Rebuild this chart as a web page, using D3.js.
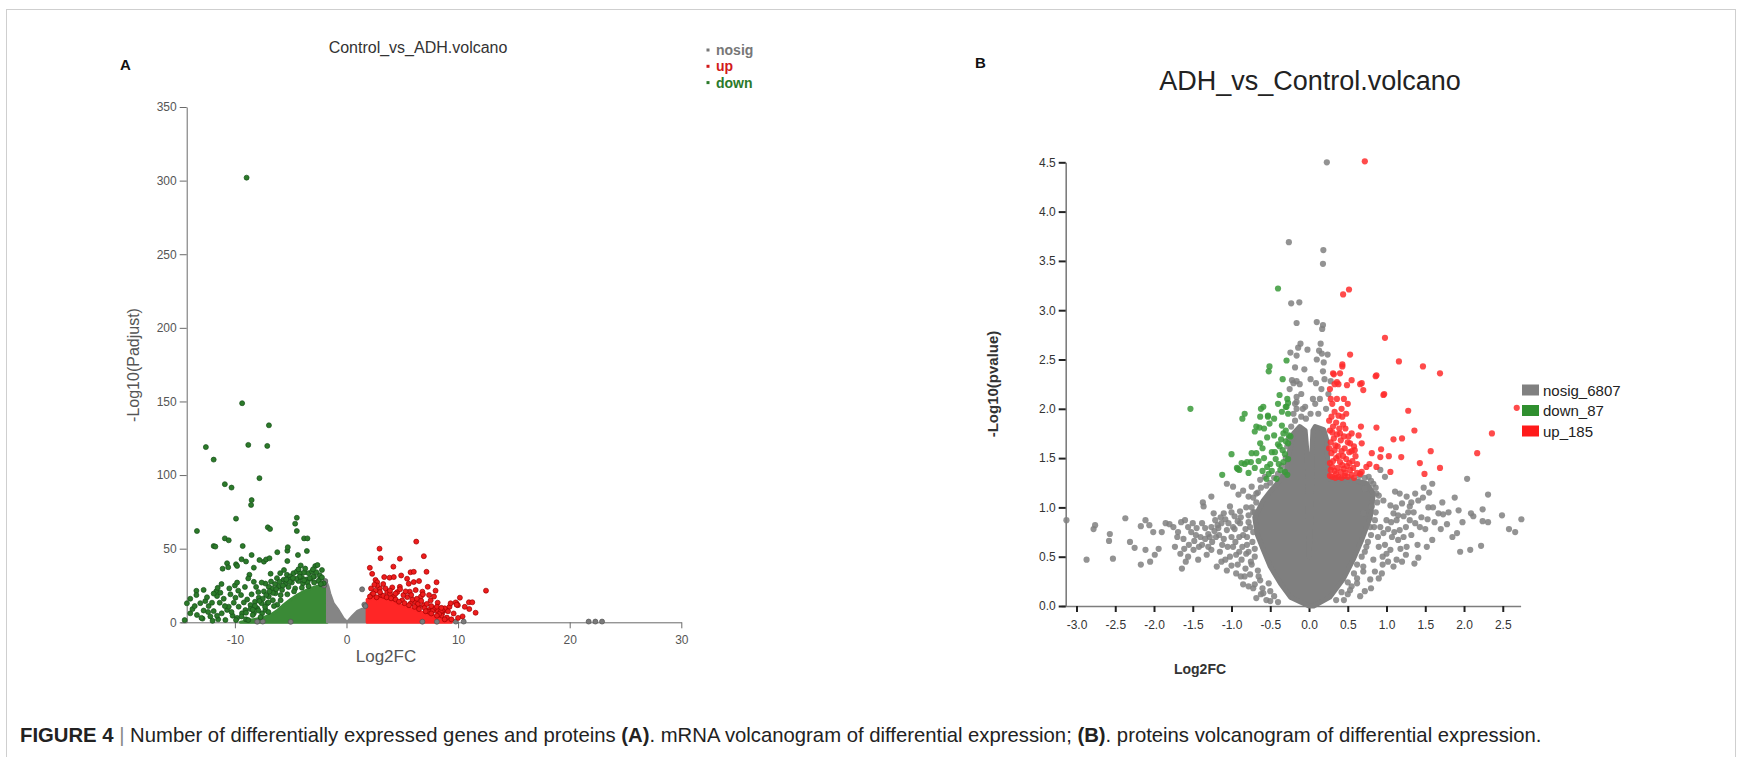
<!DOCTYPE html>
<html>
<head>
<meta charset="utf-8">
<script src="https://d3js.org/d3.v7.min.js"></script>
<style>
  body { margin: 0; background: #fff; }
  svg { font-family: Arial, "Liberation Sans", sans-serif; }
</style>
</head>
<body>
<svg id="fig" width="1742" height="757"></svg>
<script>
// ---------------- panel A : mRNA (Log2FC, -Log10(Padjust)) ----------------
var ticksAx = [-10, 0, 10, 20, 30];
var ticksAy = [0, 50, 100, 150, 200, 250, 300, 350];

var downCoreA = [[-9.5,0],[-8.5,1.5],[-7.5,3],[-6.8,5],[-6.2,8],[-5.6,12],[-5.0,15.5],[-4.4,18.5],[-3.8,21],[-3.2,23],[-2.6,24.5],[-2.2,25],[-1.75,23],[-1.75,0]];
var nosigCoreA = [[-1.75,0],[-1.75,27],[-1.6,24],[-1.45,19.5],[-1.15,13],[-0.7,8.4],[-0.25,2.7],[0.05,0.5],[0.5,4.3],[0.95,7.7],[1.4,9.3],[1.85,10],[1.85,0]];
var upCoreA = [[1.85,0],[1.85,15.5],[2.4,16.5],[3.0,17],[3.6,16],[4.2,14],[4.8,12],[5.4,10.3],[6.0,8.8],[6.6,7.2],[7.2,5.8],[7.8,4.4],[8.4,2.8],[9.0,1],[9.4,0]];

var nosigA = [[1.4,22.4],[-1.9,28],[-2.0,25],[21.7,0.5],[22.3,0.5],[22.9,0.5],[6.8,0.4],[8.1,0.4],[9.8,0.5],[10.5,0.5],[-7.5,0.5],[-8.0,0.4],[-5,0.3],[1.6,12],[1.7,11]];

var downA = [[-8.95,302],[-9.35,148.8],[-6.95,133.8],
  [-12.6,119],[-8.8,120.5],[-7.1,119.8],[-11.9,110.5],[-7.8,97.9],[-10.9,93.8],[-10.3,91.5],[-8.5,83],[-8.55,79.7],[-9.9,70.4],[-13.4,62],[-7.05,64.5],[-6.85,63.4],
  [-4.45,71],[-4.6,67],[-4.45,62],[-3.8,57],[-3.5,57],[-10.9,57],[-10.55,55.7],[-11.9,51.8],[-11.75,51.4],[-9.3,51.8],[-5.3,48.6],[-6.2,47.6],[-3.55,48.4],[-4.35,45.7],[-5.26,51],
  [-10.7,40.1],[-10.6,37.4],[-9.9,39.4],[-9.8,38.3],[-8.5,45.7],[-9.0,41.3],[-8.3,37.1],[-8.7,32.3],[-8.8,29.8],[-11.1,36.4],[-7.4,41.2],[-5.3,41.6],[-4.1,38.6],[-7.2,42.7],[-6.9,43.5],[-7.8,42.3],[-9.4,42.8],
  [-14.3,12.9],[-14.0,6.1],[-13.4,5],[-13.45,21.4],[-13.45,18.5],[-12.65,14.4],[-12.35,11],[-12.05,13.3],[-11.9,7.6],[-11.6,17.8],[-11.66,21.2],[-11.54,23.4],[-11.3,20.1],[-11.36,13.3],[-11.0,16],[-11.18,6.1],[-10.7,8.4],[-10.55,10.6],[-10.4,19],[-10.85,1.6],[-10.1,13.3],[-9.95,16.7],[-9.66,10.6],[-9.36,6.1],[-9.45,18.5],[-9.06,8.3],[-8.6,11.7],[-8.3,6.1],[-7.86,16.7],[-8.0,9.5],[-7.56,6.1],[-7.26,8.4],[-7.1,12.9],[-6.97,17.5],[-6.67,23],[-6.37,19.7],[-6.07,24.2],[-5.77,22],[-6.76,27.7],[-6.23,30],[-5.94,33.4],[-5.64,28.9],[-5.34,32.3],[-5.04,31.2],[-4.75,33.4],[-4.45,34.5],[-4.15,33.4],[-3.79,33.9],[-3.4,33.4],[-3.1,34.5],[-2.8,38.2],[-2.6,38.9],[-2.2,35.5],[-2.35,29.9],[-2.05,26.5],[-6.97,24.1],[-7.26,26.3],
  [-12.8,8],[-12.2,4],[-11.5,2],[-10.2,4.5],[-9.8,3],[-9.0,2],[-12.9,2.5],[-13.8,9],[-12.5,17],[-10.9,11],[-9.2,13.5],[-8.9,15.5],[-8.2,14],[-7.6,13],[-7.9,20.5],[-8.5,19],[-8.1,24],[-7.4,21],[-6.6,15],[-6.2,12],[-6.4,26],[-5.5,26],[-5.9,18.5],[-5.2,24],[-4.9,27],[-4.3,28],[-4.6,23],[-3.9,26.5],[-3.6,29],[-3.2,29.5],[-2.9,31],[-2.5,28],[-2.3,26],[-4.0,30.5],[-5.0,29],[-11.2,26],[-10.0,25],[-9.7,21.5],[-12.0,1],[-14.5,1.5],[-13.1,13],[-8.4,5],[-7.0,7],[-7.7,3.5],
  [-2.4,32],[-2.7,34],[-3.0,31],[-3.3,30],[-3.5,27],[-3.8,28.5],[-4.2,31],[-4.5,29.5],[-4.8,30],[-5.1,27.5],[-5.4,29],[-5.7,25],[-6.0,27.5],[-6.3,22.5],[-6.6,20],[-6.9,21],[-7.2,18.5],[-7.5,16],[-7.8,14.5],[-8.2,11],[-8.6,9],[-9.0,6.5],[-9.4,4],[-8.8,1.5],[-9.9,1.5],[-10.3,7],[-11.6,4.5],[-12.4,7],[-13.0,3],[-2.2,30.5],[-2.9,27],[-3.4,24.5],[-4.0,23.5],[-4.7,21],[-5.3,19],[-5.9,15],[-6.5,11],[-7.0,13.5],[-7.3,10.5],[-7.9,8],[-8.4,8.5],[-3.0,36],[-3.7,36.5],[-4.3,36],[-5.6,35.5],[-6.8,33],[-7.6,27],[-8.3,27.5],[-9.1,24],[-9.8,27],[-10.5,23],[-11.9,19.5],[-12.8,22],[-14.0,16],[-13.6,11]];

var upA = [[2.96,50],[3.05,43.5],[2.09,37],[4.78,43.2],[6.25,54.8],[6.93,44.9],[5.74,34],[6.03,34.3],[7.17,34.3],[8.07,27.2],[12.5,21.5],[10.97,13.6],[11.27,13.6],[11.57,6.5],[10.16,16.7],
  [9.87,12.7],[9.98,11.6],[9.23,10.5],[8.88,8.3],[8.13,7.9],[8.58,6.1],[7.39,8.3],[7.84,9.4],[6.49,10.5],[6.93,11.6],[5.74,12.7],[6.19,13.8],[4.99,14.9],[5.44,17.1],[4.25,17.5],[4.55,20.5],
  [3.65,20.5],[4.1,23.7],[2.99,23.1],[3.29,26],[2.6,28.8],[2.75,27.2],[3.38,30.7],[3.86,30.3],[4.24,30.7],[4.9,31.8],[5.43,29.6],[5.58,26.2],[6.03,27.3],[6.5,28],[6.2,21.9],[6.8,20.8],
  [7.4,18.5],[7.84,17.5],[7.28,24.1],[6.67,17.5],[8.17,13.3],[7.54,14.9],[5.67,20.8],[4.78,24.1],[2.3,32.9],[2.75,25],[4.2,37.8],[7.98,21.5],[6.85,19],[9.78,13.5],[9.87,11.9],[9.33,12.9],
  [8.8,9.5],[8.6,7.9],[8.45,7.2],[8.52,4.6],[9.0,3.2],[7.4,7.2],[2.3,19],[2.6,21.5],[3.1,18.5],[3.9,19.5],[5.1,18.5],[5.9,15.5],[6.4,12.5],[7.0,9.8],[7.7,7.6],[8.3,5.6],
  [2.1,17.5],[2.4,19.5],[2.7,17],[3.3,18],[3.6,17],[4.0,16.3],[4.4,15.5],[4.7,14],[5.2,13],[5.6,11.6],[6.1,10.5],[6.5,9],[7.1,7.5],[7.6,6],[8.1,4.5],[8.8,2],[2.2,23],[2.5,25.5],[3.0,20.5],[3.5,23],[3.9,21.5],[4.4,19.5],[4.8,22.5],[5.3,21],[5.8,18.5],[6.3,16],[6.7,14.5],[7.2,12.5],[7.6,11],[8.1,10.6],[8.5,9.8],[9.1,7.5],[9.6,6],[10.4,4],[11.0,9],[10.6,10.5],[9.4,2],[10.0,3]];

// ---------------- panel B : proteins (Log2FC, -Log10(pvalue)) ----------------
var ticksBx = [-3, -2.5, -2, -1.5, -1, -0.5, 0, 0.5, 1, 1.5, 2, 2.5];
var ticksBy = [0, 0.5, 1, 1.5, 2, 2.5, 3, 3.5, 4, 4.5];

var nosigCoreB = [[0,0],[-0.24,0.09],[-0.37,0.23],[-0.5,0.4],[-0.59,0.57],[-0.67,0.73],[-0.7,0.9],[-0.59,1.07],[-0.48,1.18],[-0.37,1.28],[-0.29,1.38],[-0.25,1.58],[-0.2,1.75],[-0.12,1.82],[-0.05,1.78],[-0.02,1.5],[-0.015,1.0],[0,0.5],[0.03,1.0],[0.035,1.5],[0.05,1.78],[0.08,1.82],[0.19,1.79],[0.23,1.68],[0.25,1.29],[0.57,1.28],[0.75,1.24],[0.83,1.14],[0.79,0.9],[0.68,0.67],[0.57,0.47],[0.44,0.27],[0.27,0.09],[0.06,0]];

var nosigB = [[-3.13,0.87],[-2.87,0.47],[-2.78,0.78],[-2.76,0.82],[-2.57,0.73],[-2.58,0.66],[-2.53,0.48],[-2.37,0.89],[-2.31,0.65],[-2.25,0.59],[-2.17,0.81],[-2.11,0.87],[-2.06,0.82],[-2.01,0.75],[-2.17,0.42],[-2.11,0.57],[-2.05,0.45],[-1.99,0.52],[-1.94,0.58],[-1.9,0.75],[-1.85,0.84],[-1.8,0.83],[-1.64,0.38],[-1.59,0.45],
  [-1.75,0.8],[-1.69,0.75],[-1.65,0.85],[-1.6,0.87],[-1.56,0.8],[-1.5,0.84],[-1.45,0.79],[-1.38,0.84],[-1.34,0.79],[-1.3,0.73],[-1.26,0.8],[-1.21,0.87],[-1.17,0.79],[-1.13,0.84],[-1.06,0.77],[-0.98,0.8],[-0.89,0.84],
  [-1.73,0.6],[-1.66,0.53],[-1.61,0.58],[-1.56,0.5],[-1.49,0.57],[-1.43,0.47],[-1.38,0.62],[-1.32,0.52],[-1.26,0.57],[-1.19,0.4],[-1.13,0.45],[-1.06,0.36],[-1.0,0.41],[-0.94,0.33],[-0.87,0.47],[-0.81,0.53],[-0.83,0.3],[-0.72,0.18],[-0.63,0.26],[-0.59,0.13],[-0.52,0.23],
  [-1.36,1.01],[-1.37,1.05],[-1.26,1.11],[-1.06,1.24],[-0.98,1.21],[-0.91,1.13],[-0.85,1.17],[-0.78,1.11],[-0.74,1.21],[-0.68,1.14],[-0.63,1.28],[-0.57,1.31],[-0.81,1.0],[-0.72,0.95],[-1.02,1.01],[-1.1,0.94],[-1.23,0.94],[-0.96,0.91],[-0.89,0.96],
  [-0.95,0.65],[-0.9,0.55],[-0.85,0.72],[-0.8,0.62],[-0.78,0.85],[-0.75,0.45],[-0.72,0.75],[-0.7,0.58],[-1.0,0.7],[-1.05,0.6],[-1.1,0.68],[-1.15,0.55],[-1.2,0.7],[-0.92,0.42],[-0.88,0.9],[-0.82,0.38],[-0.76,0.32],[-0.7,0.95],[-0.68,1.05],[-0.74,1.0],[-1.08,0.88],[-1.25,0.65],[-1.3,0.6],[-1.4,0.7],[-1.48,0.66],[-1.55,0.62],[-1.62,0.68],[-1.7,0.7],
  [0.23,4.5],[-0.26,3.69],[0.185,3.61],[0.18,3.47],[-0.23,3.07],[-0.125,3.08],[-0.16,2.87],[0.1,2.88],[0.18,2.85],[0.17,2.81],[-0.11,2.66],[-0.14,2.62],[-0.24,2.57],[-0.16,2.54],[0.15,2.66],[0.13,2.59],[0.165,2.56],[0.19,2.47],[-0.22,2.29],[-0.16,2.28],[-0.2,2.26],[0.09,2.26],[-0.16,2.12],[-0.16,2.07],[-0.16,2.0],[0.2,2.3],[0.16,2.2],[0.05,2.1],[-0.05,2.02],[0.22,2.0],[0.12,1.95],[-0.2,1.95],[-0.12,2.25],[0.25,2.15],
  [2.04,1.29],[2.31,1.13],[1.59,1.24],[1.47,1.1],[1.54,1.0],[1.6,1.0],[1.93,0.97],[2.09,0.94],[2.12,0.91],[2.24,0.98],[2.24,0.86],[2.31,0.85],[2.49,0.92],[2.74,0.88],[2.58,0.78],[2.66,0.75],[1.73,0.93],[1.78,0.83],[1.53,0.88],[1.37,0.84],[1.59,0.67],[1.95,0.55],[2.22,0.61],[1.41,0.49],[1.36,0.43],
  [1.15,0.67],[1.05,0.57],[1.07,0.7],[0.96,0.74],[0.92,0.8],[1.0,0.87],[1.17,1.14],[1.26,1.11],[1.2,1.04],[1.3,1.01],[1.13,0.87],[1.22,0.91],[0.92,1.38],[0.98,1.31],[1.11,1.16],[0.87,1.14],[0.96,1.07],[1.05,1.02],[1.09,0.94],[0.83,1.24],[0.77,1.31],[0.72,1.19],[0.81,1.01],[0.85,0.87],[0.89,0.7],[0.79,0.8],[0.7,0.94],[0.74,0.6],[0.83,0.47],[1.0,0.53],[1.09,0.4],[0.94,0.33],[0.79,0.27],[0.7,0.4],[0.62,0.23],[0.53,0.16],[1.37,1.14],[1.41,1.07],[1.3,0.87],[1.43,0.8],[1.17,0.77],[1.26,0.6],[1.13,0.47],[1.67,0.94],[1.91,0.74],[2.08,0.57],
  [-0.5,0.05],[-0.45,0.1],[-0.4,0.04],[0.45,0.06],[0.5,0.12],[0.55,0.2],[-0.6,0.18],[0.62,0.28],[-0.65,0.3],[0.7,0.35],
  [-0.62,0.12],[-0.7,0.22],[-0.66,0.36],[-0.74,0.42],[-0.7,0.5],[-0.78,0.55],[-0.73,0.65],[-0.8,0.7],[-0.76,0.8],[-0.82,0.78],[-0.78,0.92],[-0.72,1.1],[-0.66,1.15],[-0.62,1.2],[-0.55,1.22],[-0.5,1.25],[-0.45,1.3],[-0.4,1.34],[-0.35,1.42],[-0.3,1.5],[-0.28,1.62],[-0.26,1.7],[-0.23,1.82],[-0.18,1.88],[-0.1,1.92],[-0.04,1.9],
  [-0.86,0.6],[-0.9,0.7],[-0.94,0.52],[-0.98,0.6],[-1.02,0.5],[-1.08,0.47],[-1.12,0.62],[-1.16,0.72],[-0.96,0.78],[-0.92,0.86],[-1.0,0.95],[-1.04,0.84],[-1.14,0.9],[-1.18,0.82],[-1.22,0.76],[-1.28,0.7],[-1.34,0.68],[-1.42,0.6],[-1.46,0.72],[-1.52,0.75],[-0.88,0.3],[-0.85,0.22],[-0.78,0.2],[-0.68,0.08],[-0.55,0.06],[-0.5,0.15],
  [0.35,0.06],[0.42,0.14],[0.5,0.24],[0.58,0.33],[0.62,0.42],[0.68,0.5],[0.72,0.55],[0.76,0.65],[0.8,0.72],[0.84,0.8],[0.86,0.95],[0.88,1.05],[0.9,1.12],[0.86,1.2],[0.8,1.27],[0.72,1.3],[0.65,1.32],
  [0.9,0.6],[0.95,0.5],[0.98,0.62],[1.02,0.78],[1.06,0.85],[1.1,0.75],[1.12,1.0],[1.15,0.92],[1.18,0.58],[1.22,0.7],[1.25,0.8],[1.28,0.95],[1.32,1.05],[1.35,0.95],[1.32,0.72],[1.4,0.62],[1.45,0.9],[1.5,0.78],[1.52,0.6],[1.48,1.2],[1.55,1.15],[1.62,0.85],[1.7,0.78],[1.72,1.05],[1.8,0.95],[1.85,0.7],[1.88,1.1],[1.98,0.85],[0.85,0.35],[0.9,0.28],[0.8,0.18],[0.72,0.15],[0.66,0.1],[0.95,0.42],[1.02,0.45],[1.2,0.45],[1.25,0.52],
  [-0.08,2.0],[0.02,1.95],[0.08,2.05],[-0.18,2.05],[0.14,2.1],[-0.1,2.15],[0.18,2.38],[-0.06,2.4],[0.28,2.28],[-0.25,2.2],[0.24,2.55],[-0.18,2.42],[0.02,2.3],[0.1,2.5],[-0.02,2.6]];

var downB = [[-1.53,2.0],[-0.4,3.22],[-0.29,2.49],[-0.51,2.43],[-0.52,2.38],[-0.38,2.14],[-0.28,2.1],[-0.27,2.06],[-0.3,2.02],[-0.35,1.97],[-0.59,2.02],[-0.62,2.0],[-0.53,1.93],[-0.83,1.95],[-0.86,1.9],[-0.7,1.77],[-0.64,1.81],
  [-0.3,1.78],[-0.26,1.73],[-0.24,1.72],[-0.27,1.65],[-0.3,1.67],[-0.36,1.69],[-0.4,1.64],[-0.34,1.58],[-0.31,1.54],[-0.27,1.49],[-0.33,1.46],[-0.39,1.44],[-0.43,1.49],[-0.5,1.44],[-0.54,1.41],[-0.48,1.37],[-0.52,1.34],[-0.55,1.29],[-0.37,1.38],[-0.31,1.36],[-0.28,1.33],[-0.42,1.29],[-0.6,1.37],[-0.65,1.47],[-0.75,1.46],[-0.83,1.44],[-0.87,1.45],[-0.93,1.4],[-1.0,1.54],[-0.74,1.55],[-1.12,1.33],[-0.63,1.65],[-0.54,1.71],[-0.48,1.56],[-0.45,1.73],[-0.35,1.83],[-0.27,1.95],[-0.29,2.02],[-0.63,1.92],[-0.68,1.82],[-0.53,1.92],[-0.51,1.85],[-0.9,1.38],[-0.92,1.39],[-0.8,1.46],
  [-0.33,1.75],[-0.38,1.62],[-0.44,1.56],[-0.58,1.5],[-0.6,1.6],[-0.68,1.55],[-0.7,1.4],[-0.78,1.35],[-0.58,1.8],[-0.45,1.9],[-0.4,2.05],[-0.34,2.3]];

var upB = [[0.72,4.51],[0.44,3.16],[0.516,3.21],[0.53,2.55],[0.98,2.72],[1.16,2.48],[1.47,2.43],[1.69,2.36],[0.43,2.43],[0.86,2.33],[0.96,2.14],[0.66,2.25],[0.7,2.19],[2.68,2.01],[2.36,1.75],[2.17,1.55],[1.28,1.98],[1.36,1.78],[0.87,1.81],[1.09,1.69],[1.2,1.7],[0.93,1.59],[1.03,1.52],[1.19,1.51],[1.43,1.45],[1.49,1.34],[1.57,1.57],[1.69,1.4],[1.05,1.36],[0.87,2.34],[0.97,2.15],
  [0.43,2.45],[0.4,2.36],[0.31,2.36],[0.36,2.27],[0.49,2.24],[0.55,2.29],[0.68,2.26],[0.67,1.82],[0.64,1.73],[0.68,1.65],[0.53,1.65],[0.59,1.58],[0.81,1.55],[0.74,1.41],[0.68,1.36],[0.66,1.34],[0.78,1.44],[0.92,1.51],[0.87,1.41],
  [0.27,1.32],[0.3,1.31],[0.34,1.3],[0.38,1.31],[0.42,1.3],[0.46,1.32],[0.5,1.31],[0.55,1.33],[0.28,1.38],[0.33,1.37],[0.37,1.4],[0.41,1.36],[0.45,1.39],[0.49,1.42],[0.53,1.38],[0.27,1.45],[0.31,1.47],[0.35,1.5],[0.4,1.46],[0.44,1.52],[0.48,1.49],[0.56,1.47],[0.29,1.55],[0.33,1.58],[0.37,1.62],[0.42,1.57],[0.46,1.6],[0.52,1.56],[0.28,1.66],[0.32,1.7],[0.36,1.74],[0.41,1.68],[0.45,1.72],[0.5,1.66],[0.27,1.78],[0.31,1.82],[0.35,1.86],[0.39,1.8],[0.44,1.84],[0.29,1.92],[0.33,1.97],[0.38,1.93],[0.3,2.05],[0.36,2.1],[0.42,2.0],[0.27,2.2],[0.33,2.25],[0.48,1.95],[0.55,1.75],[0.58,1.62],
  [0.26,1.88],[0.3,1.76],[0.34,1.63],[0.38,1.52],[0.43,1.43],[0.47,1.35],[0.52,1.45],[0.57,1.4],[0.6,1.52],[0.62,1.44],[0.4,1.75],[0.43,1.92],[0.47,1.8],[0.51,1.72],[0.55,1.57],[0.28,2.1],[0.32,2.35],[0.38,2.25],[0.45,2.1],[0.5,2.05],[0.26,1.6],[0.3,1.41],[0.35,1.34],[0.58,1.3],[0.62,1.35]];

var legendA = ["nosig", "up", "down"];
var legendB = ["nosig_6807", "down_87", "up_185"];

// ---------------- drawing ----------------
var svg = d3.select("#fig");

// outer frame
svg.append("rect").attr("x", 6.5).attr("y", 9.5).attr("width", 1729).attr("height", 800)
  .attr("fill", "none").attr("stroke", "#cfcfcf");

//------------------------ panel A ------------------------//
var xA = d3.scaleLinear().domain([-14.9, 30]).range([180.2, 681.3]);
var yA = d3.scaleLinear().domain([0, 350]).range([622.3, 107]);

var axA = svg.append("g").attr("transform", "translate(0,622.3)")
  .call(d3.axisBottom(xA).tickValues(ticksAx).tickSize(6).tickSizeOuter(0).tickFormat(function(d) { return String(d); }));
var ayA = svg.append("g").attr("transform", "translate(186.7,0)")
  .call(d3.axisLeft(yA).tickValues(ticksAy).tickSize(7).tickSizeOuter(0).tickFormat(function(d) { return String(d); }));
[axA, ayA].forEach(function(a) {
  a.select(".domain").attr("stroke", "#6a6a6a");
  a.selectAll(".tick line").attr("stroke", "#6a6a6a");
  a.selectAll(".tick text").attr("fill", "#555").style("font-size", "12px").style("font-family", "Arial, 'Liberation Sans', sans-serif");
});
axA.selectAll(".tick text").attr("dy", "1.1em");

var lineA = d3.line().x(function(d) { return xA(d[0]); }).y(function(d) { return yA(d[1]); });
var gA = svg.append("g");
gA.append("path").datum(downCoreA).attr("d", function(d) { return lineA(d) + "Z"; })
  .attr("fill", "#3a8a36").attr("stroke", "#3a8a36").attr("stroke-width", 3).attr("stroke-linejoin", "round");
gA.append("path").datum(nosigCoreA).attr("d", function(d) { return lineA(d) + "Z"; })
  .attr("fill", "#858585").attr("stroke", "#858585").attr("stroke-width", 2).attr("stroke-linejoin", "round");
gA.append("path").datum(upCoreA).attr("d", function(d) { return lineA(d) + "Z"; })
  .attr("fill", "#ff2626").attr("stroke", "#ff2626").attr("stroke-width", 3).attr("stroke-linejoin", "round");

function dotsA(data, fill, stroke) {
  gA.append("g").selectAll("circle").data(data).enter().append("circle")
    .attr("cx", function(d) { return xA(d[0]); })
    .attr("cy", function(d) { return yA(d[1]); })
    .attr("r", 2.5).attr("fill", fill).attr("stroke", stroke).attr("stroke-width", 0.7);
}
dotsA(nosigA, "#7a7a7a", "#555");
dotsA(downA, "#2c7a2a", "#17501a");
dotsA(upA, "#ee1c1c", "#a00000");

// texts A
svg.append("text").attr("x", 120).attr("y", 70).style("font-weight", "bold").style("font-size", "15px").attr("fill", "#111").text("A");
svg.append("text").attr("x", 418).attr("y", 53).attr("text-anchor", "middle").style("font-size", "16px").attr("fill", "#333").text("Control_vs_ADH.volcano");
svg.append("text").attr("x", 386).attr("y", 662).attr("text-anchor", "middle").style("font-size", "17px").attr("fill", "#555").text("Log2FC");
svg.append("text").attr("transform", "translate(139,365) rotate(-90)").attr("text-anchor", "middle").style("font-size", "16px").attr("fill", "#555").text("-Log10(Padjust)");

var legColA = ["#777", "#d21a1a", "#2c7a2a"];
var legA = svg.append("g").selectAll("g").data(legendA).enter().append("g")
  .attr("transform", function(d, i) { return "translate(708," + (50 + i * 16.3) + ")"; });
legA.append("rect").attr("x", -1.5).attr("y", -1.5).attr("width", 3).attr("height", 3)
  .attr("fill", function(d, i) { return legColA[i]; });
legA.append("text").attr("x", 8).attr("y", 5).style("font-size", "14px").style("font-weight", "bold")
  .attr("fill", function(d, i) { return legColA[i]; }).text(function(d) { return d; });

//------------------------ panel B ------------------------//
var xB = d3.scaleLinear().domain([-3.2, 2.73]).range([1061, 1520.6]);
var yB = d3.scaleLinear().domain([0, 4.5]).range([606, 162.3]);

var axB = svg.append("g").attr("transform", "translate(0,606)")
  .call(d3.axisBottom(xB).tickValues(ticksBx).tickSize(6).tickSizeOuter(0).tickFormat(function(d) { return d.toFixed(1); }));
var ayB = svg.append("g").attr("transform", "translate(1065.7,0)")
  .call(d3.axisLeft(yB).tickValues(ticksBy).tickSize(7).tickSizeOuter(0).tickFormat(function(d) { return d.toFixed(1); }));
[axB, ayB].forEach(function(a) {
  a.select(".domain").attr("stroke", "#7d7d7d").attr("stroke-width", 1.6);
  a.selectAll(".tick line").attr("stroke", "#222").attr("stroke-width", 2);
  a.selectAll(".tick text").attr("fill", "#333").style("font-size", "12px").style("font-family", "Arial, 'Liberation Sans', sans-serif");
});
axB.selectAll(".tick text").attr("dy", "1.2em");

var lineB = d3.line().x(function(d) { return xB(d[0]); }).y(function(d) { return yB(d[1]); });
var gB = svg.append("g");
gB.append("path").datum(nosigCoreB).attr("d", function(d) { return lineB(d) + "Z"; })
  .attr("fill", "#7f7f7f").attr("stroke", "#7f7f7f").attr("stroke-width", 5).attr("stroke-linejoin", "round");

function dotsB(data, fill) {
  gB.append("g").selectAll("circle").data(data).enter().append("circle")
    .attr("cx", function(d) { return xB(d[0]); })
    .attr("cy", function(d) { return yB(d[1]); })
    .attr("r", 3.1).attr("fill", fill).attr("fill-opacity", 0.85);
}
dotsB(nosigB, "#808080");
dotsB(downB, "#3a9a3a");
dotsB(upB, "#ff2b2b");

svg.append("text").attr("x", 975).attr("y", 68).style("font-weight", "bold").style("font-size", "15px").attr("fill", "#111").text("B");
svg.append("text").attr("x", 1310).attr("y", 90).attr("text-anchor", "middle").style("font-size", "27px").attr("fill", "#222").text("ADH_vs_Control.volcano");
svg.append("text").attr("x", 1200).attr("y", 674).attr("text-anchor", "middle").style("font-size", "14px").style("font-weight", "bold").attr("fill", "#333").text("Log2FC");
svg.append("text").attr("transform", "translate(998,384) rotate(-90)").attr("text-anchor", "middle").style("font-size", "15px").style("font-weight", "bold").attr("fill", "#333").text("-Log10(pvalue)");

var legColB = ["#808080", "#2f8f2f", "#ff1a1a"];
var legB = svg.append("g").selectAll("g").data(legendB).enter().append("g")
  .attr("transform", function(d, i) { return "translate(1522," + (390 + i * 20.5) + ")"; });
legB.append("rect").attr("x", 0).attr("y", -5.5).attr("width", 17).attr("height", 11)
  .attr("fill", function(d, i) { return legColB[i]; });
legB.append("text").attr("x", 21).attr("y", 5.5).style("font-size", "15px").attr("fill", "#222").text(function(d) { return d; });

//------------------------ caption ------------------------//
var cap = svg.append("text").attr("x", 20).attr("y", 742).style("font-size", "20.3px").attr("fill", "#222");
cap.append("tspan").style("font-weight", "bold").text("FIGURE 4");
cap.append("tspan").attr("fill", "#888").text(" | ");
cap.append("tspan").text("Number of differentially expressed genes and proteins ");
cap.append("tspan").style("font-weight", "bold").text("(A)");
cap.append("tspan").text(". mRNA volcanogram of differential expression; ");
cap.append("tspan").style("font-weight", "bold").text("(B)");
cap.append("tspan").text(". proteins volcanogram of differential expression.");
</script>
</body>
</html>
